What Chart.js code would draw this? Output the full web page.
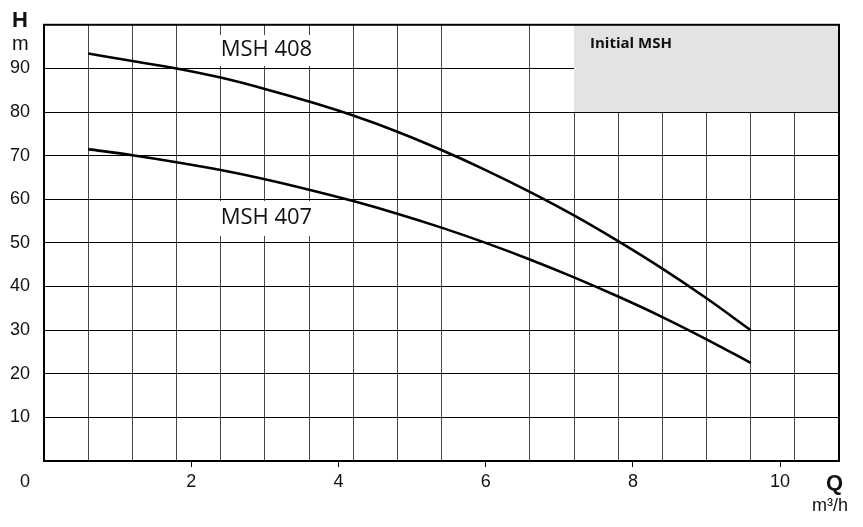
<!DOCTYPE html>
<html>
<head>
<meta charset="utf-8">
<script src="https://cdn.jsdelivr.net/npm/chart.js@4.4.1/dist/chart.umd.min.js"></script>
<style>
html, body { margin: 0; padding: 0; background: #fff; }
#wrap { width: 863px; height: 527px; }
</style>
</head>
<body>
<div id="wrap"><canvas id="courbes" width="863" height="527"></canvas></div>
<script>
// debit Q (m3/h)
const debit  = [0.6, 1.2, 1.8, 2.4, 3.0, 3.6, 4.2, 4.8, 5.4, 6.0, 6.6, 7.2, 7.8, 8.4, 9.0, 9.6];
// hauteur H (m)
const msh408 = [93.4, 91.7, 90.0, 87.9, 85.3, 82.4, 79.2, 75.5, 71.3, 66.7, 61.7, 56.3, 50.4, 44.1, 37.3, 30.0];
const msh407 = [71.5, 70.1, 68.5, 66.7, 64.6, 62.2, 59.6, 56.7, 53.5, 50.0, 46.2, 42.1, 37.7, 33.0, 27.9, 22.5];

const xLabels = [2, 4, 6, 8, 10];
const yLabels = [10, 20, 30, 40, 50, 60, 70, 80, 90];
const Q_MAX = 10.8;
const GRID_Q = 0.6;

const toPoints = (ys) => debit.map((q, i) => ({ x: q, y: ys[i] }));

const serie = (label, ys) => ({
    label: label,
    data: toPoints(ys),
    borderColor: '#000',
    borderWidth: 2.6,
    pointRadius: 0,
    showLine: true,
    fill: false,
    cubicInterpolationMode: 'monotone'
});

// zone grise, etiquettes, cadre
const decor = {
    id: 'decor',
    beforeDatasetsDraw(chart) {
        const { ctx, chartArea: a, scales: { x, y } } = chart;
        ctx.save();

        const gx = x.getPixelForValue(7.2);
        const gy0 = y.getPixelForValue(100);
        const gy1 = y.getPixelForValue(80);
        ctx.fillStyle = '#e2e3e5';
        ctx.fillRect(gx, gy0, a.right - gx, gy1 - gy0);
        ctx.fillStyle = '#111';
        ctx.font = 'bold 15px "Open Sans"';
        ctx.textBaseline = 'middle';
        ctx.fillText('Initial MSH', gx + 16, gy0 + 19);

        // noms des courbes
        ctx.font = '22px "Open Sans"';
        [['MSH 408', 94.2, 35, 66], ['MSH 407', 55.8, 201, 236]].forEach(([txt, v, top, bot]) => {
            const px = x.getPixelForValue(2.4);
            const w = ctx.measureText(txt).width;
            ctx.fillStyle = '#fff';
            ctx.fillRect(px - 2, top, w + 5, bot - top);
            ctx.fillStyle = '#111';
            ctx.fillText(txt, px, y.getPixelForValue(v));
        });

        ctx.lineWidth = 2;
        ctx.strokeStyle = '#000';
        ctx.strokeRect(a.left, a.top, a.right - a.left, a.bottom - a.top);
        ctx.restore();
    },
    afterDraw(chart) {
        const { ctx, chartArea: a } = chart;
        ctx.save();
        ctx.fillStyle = '#111';
        ctx.textBaseline = 'alphabetic';
        ctx.font = 'bold 22px "Liberation Sans"';
        ctx.fillText('H', 12, 27);
        ctx.fillText('Q', 826, 490);
        ctx.font = '20px "Liberation Sans"';
        ctx.fillText('m', 12, 50);
        ctx.font = '18px "Liberation Sans"';
        ctx.fillText('m³/h', 812, 511);
        ctx.textAlign = 'center';
        ctx.textBaseline = 'middle';
        ctx.fillText('0', 25, a.bottom + 21);
        ctx.restore();
    }
};

new Chart(document.getElementById('courbes').getContext('2d'), {
    type: 'scatter',
    data: {
        datasets: [serie('MSH 408', msh408), serie('MSH 407', msh407)]
    },
    options: {
        responsive: false,
        animation: false,
        layout: { padding: { top: 24, right: 24, left: 0, bottom: 0 } },
        plugins: { legend: { display: false }, tooltip: { enabled: false } },
        scales: {
            x: {
                type: 'linear',
                min: 0,
                max: Q_MAX,
                afterBuildTicks(scale) {
                    const vals = [];
                    for (let k = 1; k * GRID_Q <= Q_MAX + 0.001; k++) vals.push(+(k * GRID_Q).toFixed(2));
                    xLabels.forEach(v => { if (!vals.includes(v)) vals.push(v); });
                    vals.sort((p, q) => p - q);
                    scale.ticks = vals.map(v => ({ value: v }));
                },
                afterFit(scale) { scale.height = 66; },
                border: { display: false },
                grid: {
                    color: (c) => xLabels.includes(c.tick && c.tick.value) ? 'rgba(0,0,0,0)' : 'rgba(0,0,0,0.72)',
                    tickColor: (c) => xLabels.includes(c.tick && c.tick.value) ? '#000' : 'rgba(0,0,0,0)',
                    lineWidth: 1,
                    tickLength: 6
                },
                ticks: {
                    autoSkip: false,
                    maxRotation: 0,
                    padding: 4,
                    color: '#111',
                    font: { family: 'Liberation Sans', size: 18 },
                    callback: (v) => xLabels.includes(v) ? String(v) : ''
                }
            },
            y: {
                min: 0,
                max: 100,
                afterFit(scale) { scale.width = 44; },
                border: { display: false },
                grid: { color: '#000', lineWidth: 1, drawTicks: false },
                ticks: {
                    stepSize: 10,
                    padding: 14,
                    color: '#111',
                    font: { family: 'Liberation Sans', size: 18 },
                    callback: (v) => yLabels.includes(v) ? String(v) : ''
                }
            }
        }
    },
    plugins: [decor]
});
</script>
</body>
</html>
